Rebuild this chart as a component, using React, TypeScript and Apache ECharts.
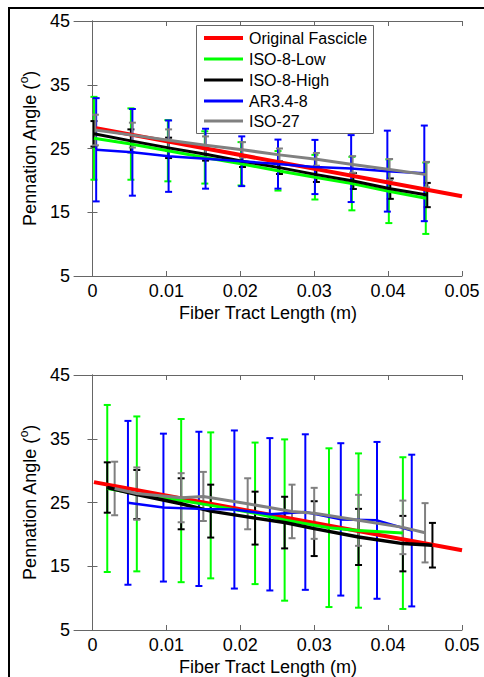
import React, { useEffect, useRef } from "react";
import * as echarts from "echarts";

// ---------- data: top panel ----------
const topRedX = [0.0005, 0.05];
const topRedY = [28.2, 17.5];

const topGreenX = [0.0002, 0.0052, 0.0102, 0.0152, 0.0201, 0.0251, 0.0301, 0.0351, 0.0401, 0.0451];
const topGreenMean = [26.6, 25.7, 24.65, 23.6, 22.6, 21.5, 20.5, 19.5, 18.3, 17.2];
const topGreenSd = [6.5, 5.6, 4.8, 4.1, 3.4, 3.1, 3.5, 4.2, 5.0, 5.6];

const topBlackX = [0.0002, 0.0052, 0.0103, 0.0153, 0.0203, 0.0253, 0.0303, 0.0353, 0.0403, 0.0453];
const topBlackMean = [27.3, 26.2, 25.1, 24.1, 23.0, 22.0, 20.9, 19.9, 18.7, 17.7];
const topBlackSd = [2.0, 1.8, 1.6, 1.0, 0.9, 1.0, 1.15, 1.25, 1.6, 1.9];

const topBlueX = [0.0005, 0.0054, 0.0103, 0.0153, 0.0202, 0.0251, 0.0301, 0.035, 0.0399, 0.0449];
const topBlueMean = [24.8, 24.4, 23.8, 23.4, 23.0, 22.55, 22.1, 21.85, 21.45, 21.1];
const topBlueSd = [8.1, 6.8, 5.6, 4.7, 3.9, 3.85, 4.25, 5.25, 6.35, 7.5];

const topGrayX = [0.0004, 0.0054, 0.0103, 0.0153, 0.0203, 0.0253, 0.0303, 0.0352, 0.0402, 0.0452];
const topGrayMean = [27.9, 27.1, 26.3, 25.5, 24.8, 24.0, 23.3, 22.5, 21.7, 20.9];
const topGraySd = [2.4, 1.95, 1.7, 1.4, 1.2, 1.0, 1.0, 1.3, 1.65, 2.0];

// ---------- data: bottom panel ----------
const botRedX = [0.0002, 0.05];
const botRedY = [28.2, 17.5];

const botGreenX = [0.002, 0.006, 0.012, 0.016, 0.022, 0.026, 0.032, 0.036, 0.042];
const botGreenMean = [27.2, 26.35, 25.3, 24.55, 23.3, 22.25, 21.05, 20.6, 20.2];
const botGreenSd = [13.1, 12.15, 12.8, 11.45, 11.1, 12.65, 12.45, 12.1, 11.9];

const botBlueX = [0.0048, 0.0096, 0.0144, 0.0192, 0.024, 0.0288, 0.0336, 0.0385, 0.0432];
const botBlueMean = [24.95, 24.2, 24.0, 23.9, 23.15, 23.5, 22.35, 22.2, 20.6];
const botBlueSd = [12.85, 11.6, 12.1, 12.4, 11.95, 12.2, 11.95, 12.3, 11.9];

const botBlackX = [0.002, 0.006, 0.012, 0.016, 0.022, 0.026, 0.03, 0.036, 0.042, 0.046];
const botBlackMean = [27.35, 26.25, 24.8, 23.65, 22.55, 21.85, 20.9, 19.6, 18.55, 18.3];
const botBlackSd = [3.95, 3.85, 4.0, 4.15, 4.15, 4.05, 4.3, 4.4, 4.35, 3.5];

const botGrayX = [0.003, 0.006, 0.012, 0.015, 0.021, 0.027, 0.03, 0.036, 0.042, 0.045];
const botGrayMean = [27.2, 26.4, 25.75, 25.95, 24.8, 23.6, 23.3, 22.2, 21.1, 20.25];
const botGraySd = [4.2, 4.1, 3.85, 3.85, 4.0, 4.2, 4.0, 4.0, 4.2, 4.65];

// ---------- axes ----------
const xTicks = [0, 0.01, 0.02, 0.03, 0.04, 0.05];
const yTicks = [5, 15, 25, 35, 45];
const xMin = -0.0025;
const xMax = 0.05;
const yMin = 5;
const yMax = 45;

const legendNames = ["Original Fascicle", "ISO-8-Low", "ISO-8-High", "AR3.4-8", "ISO-27"];
const legendColors = ["#ff0000", "#00ff00", "#000000", "#0000ff", "#808080"];

const FONT = "'Liberation Sans', Arial, sans-serif";
const AXIS_COLOR = "#666666";

function pairs(xs: number[], ys: number[]) {
  return xs.map((x, i) => [x, ys[i]]);
}
function bars(xs: number[], m: number[], s: number[]) {
  return xs.map((x, i) => [x, m[i] - s[i], m[i] + s[i]]);
}

function lineSeries(data: number[][], color: string, width: number, idx: number) {
  return {
    type: "line",
    xAxisIndex: idx * 2,
    yAxisIndex: idx * 2,
    data,
    symbol: "none",
    lineStyle: { color, width },
    silent: true,
  };
}

function errSeries(data: number[][], color: string, idx: number) {
  return {
    type: "custom",
    xAxisIndex: idx * 2,
    yAxisIndex: idx * 2,
    data,
    silent: true,
    encode: { x: 0, y: [1, 2] },
    renderItem: (params: any, api: any) => {
      const x = api.value(0);
      const lo = api.value(1);
      const hi = api.value(2);
      const t = api.coord([x, hi]);
      const b = api.coord([x, lo]);
      const w = 3.5;
      const style = { stroke: color, lineWidth: 2 };
      return {
        type: "group",
        children: [
          { type: "line", shape: { x1: t[0], y1: t[1], x2: b[0], y2: b[1] }, style },
          { type: "line", shape: { x1: t[0] - w, y1: t[1], x2: t[0] + w, y2: t[1] }, style },
          { type: "line", shape: { x1: b[0] - w, y1: b[1], x2: b[0] + w, y2: b[1] }, style },
        ],
      };
    },
  };
}

function axesFor(gridIndex: number) {
  const tick = { show: true, inside: true, length: 5, lineStyle: { color: AXIS_COLOR, width: 1 } };
  const line = { show: true, lineStyle: { color: AXIS_COLOR, width: 1 } };
  const x = [
    {
      type: "value",
      gridIndex,
      min: xMin,
      max: xMax,
      position: "bottom",
      axisLine: line,
      axisTick: { ...tick, customValues: xTicks },
      axisLabel: {
        customValues: xTicks,
        color: "#000",
        fontSize: 18,
        fontFamily: FONT,
        margin: 6,
        formatter: (v: number) => String(Math.round(v * 100) / 100),
      },
      splitLine: { show: false },
      name: "Fiber Tract Length (m)",
      nameLocation: "middle",
      nameGap: 28,
      nameTextStyle: { color: "#000", fontSize: 18, fontFamily: FONT },
    },
    {
      type: "value",
      gridIndex,
      min: xMin,
      max: xMax,
      position: "top",
      axisLine: line,
      axisTick: { ...tick, customValues: xTicks },
      axisLabel: { show: false, customValues: xTicks },
      splitLine: { show: false },
    },
  ];
  const y = [
    {
      type: "value",
      gridIndex,
      min: yMin,
      max: yMax,
      position: "left",
      axisLine: line,
      axisTick: { ...tick, customValues: yTicks },
      axisLabel: {
        customValues: yTicks,
        color: "#000",
        fontSize: 18,
        fontFamily: FONT,
        margin: 4,
      },
      splitLine: { show: false },
      name: "{a|Pennation Angle (}{s|o}{a|)}",
      nameLocation: "middle",
      nameGap: 27,
      nameTextStyle: {
        color: "#000",
        fontSize: 18,
        fontFamily: FONT,
        rich: {
          a: { fontSize: 18, fontFamily: FONT, color: "#000", lineHeight: 24 },
          s: { fontSize: 12, fontFamily: FONT, color: "#000", verticalAlign: "top", lineHeight: 24 },
        },
      },
    },
    {
      type: "value",
      gridIndex,
      min: yMin,
      max: yMax,
      position: "right",
      axisLine: line,
      axisTick: { ...tick, customValues: yTicks },
      axisLabel: { show: false, customValues: yTicks },
      splitLine: { show: false },
    },
  ];
  return { x, y };
}

function legendGraphic() {
  const rowY = [38, 59, 80, 101, 121];
  const children: any[] = [
    {
      type: "rect",
      shape: { x: 196.5, y: 25.5, width: 177, height: 108 },
      style: { fill: "#ffffff", stroke: AXIS_COLOR, lineWidth: 1 },
    },
  ];
  legendNames.forEach((n, i) => {
    children.push({
      type: "line",
      shape: { x1: 204, y1: rowY[i], x2: 243, y2: rowY[i] },
      style: { stroke: legendColors[i], lineWidth: i === 0 ? 4 : 3 },
    });
    children.push({
      type: "text",
      x: 249,
      y: rowY[i],
      style: {
        text: n,
        fill: "#000",
        font: `16px ${FONT}`,
        textVerticalAlign: "middle",
        verticalAlign: "middle",
      },
    });
  });
  return { type: "group", z: 100, children };
}

export default function App() {
  const ref = useRef<HTMLDivElement>(null);
  useEffect(() => {
    if (!ref.current) return;
    const chart = echarts.init(ref.current, undefined, { renderer: "svg" });
    const a0 = axesFor(0);
    const a1 = axesFor(1);
    const option: any = {
      animation: false,
      backgroundColor: "#ffffff",
      grid: [
        { left: 74, top: 21, width: 388, height: 255, show: false },
        { left: 74, top: 375, width: 388, height: 257, show: false },
      ],
      xAxis: [...a0.x, ...a1.x],
      yAxis: [...a0.y, ...a1.y],
      series: [
        // top
        lineSeries(pairs(topRedX, topRedY), "#ff0000", 4, 0),
        errSeries(bars(topGreenX, topGreenMean, topGreenSd), "#00ff00", 0),
        lineSeries(pairs(topGreenX, topGreenMean), "#00ff00", 3, 0),
        errSeries(bars(topBlackX, topBlackMean, topBlackSd), "#000000", 0),
        lineSeries(pairs(topBlackX, topBlackMean), "#000000", 3, 0),
        errSeries(bars(topBlueX, topBlueMean, topBlueSd), "#0000ff", 0),
        lineSeries(pairs(topBlueX, topBlueMean), "#0000ff", 2.5, 0),
        errSeries(bars(topGrayX, topGrayMean, topGraySd), "#808080", 0),
        lineSeries(pairs(topGrayX, topGrayMean), "#808080", 3, 0),
        // bottom
        lineSeries(pairs(botRedX, botRedY), "#ff0000", 4, 1),
        errSeries(bars(botGreenX, botGreenMean, botGreenSd), "#00ff00", 1),
        lineSeries(pairs(botGreenX, botGreenMean), "#00ff00", 3, 1),
        errSeries(bars(botBlackX, botBlackMean, botBlackSd), "#000000", 1),
        lineSeries(pairs(botBlackX, botBlackMean), "#000000", 3.5, 1),
        errSeries(bars(botBlueX, botBlueMean, botBlueSd), "#0000ff", 1),
        lineSeries(pairs(botBlueX, botBlueMean), "#0000ff", 2.5, 1),
        errSeries(bars(botGrayX, botGrayMean, botGraySd), "#808080", 1),
        lineSeries(pairs(botGrayX, botGrayMean), "#808080", 3, 1),
      ],
      graphic: [
        {
          type: "line",
          z: 100,
          shape: { x1: 8, y1: 8, x2: 484, y2: 8 },
          style: { stroke: "#000", lineWidth: 2 },
        },
        {
          type: "line",
          z: 100,
          shape: { x1: 9, y1: 7, x2: 9, y2: 677 },
          style: { stroke: "#000", lineWidth: 2 },
        },
        legendGraphic(),
      ],
    };
    chart.setOption(option);
    return () => chart.dispose();
  }, []);
  return (
    <div
      ref={ref}
      style={{ position: "absolute", left: 0, top: 0, width: 484, height: 677 }}
    />
  );
}
